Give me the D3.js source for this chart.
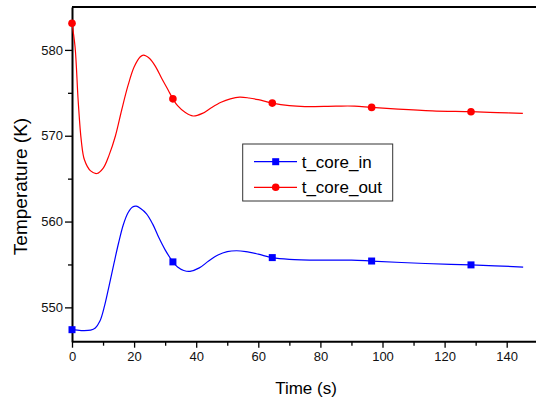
<!DOCTYPE html>
<html>
<head>
<meta charset="utf-8">
<script src="https://cdn.jsdelivr.net/npm/d3@7"></script>
<style>
  body { margin: 0; background: #fff; }
  svg { display: block; font-family: "Liberation Sans", Arial, sans-serif; }
</style>
</head>
<body>
<div id="chart"></div>
<script>
// values
var timeOut = [0, 1, 2, 3, 4, 6, 8, 10, 12, 14, 16, 18, 20, 22, 23, 25, 27, 29, 31, 32.5, 34, 36.5, 39, 42, 45, 48, 51, 54, 57, 60, 64.5, 70, 75, 85, 91, 96.5, 105, 116, 128.5, 137, 145.2]
var tCoreOut = [583.1, 580.3, 574, 569.4, 567.2, 565.9, 565.6, 566.2, 567.8, 570, 573, 575.8, 578, 579.2, 579.4, 579.0, 578, 576.6, 575.3, 574.3, 573.5, 572.7, 572.3, 572.6, 573.3, 573.9, 574.3, 574.5, 574.4, 574.2, 573.8, 573.5, 573.4, 573.45, 573.45, 573.3, 573.1, 572.9, 572.8, 572.7, 572.6]

var timeIn = [0, 3, 6, 7.5, 9, 10.5, 12, 13.5, 15, 16.5, 18, 19.5, 20.7, 22, 24, 26, 28, 30, 32.5, 34, 36, 38, 41, 44, 47, 50, 53, 56, 60, 64.5, 70, 80, 90, 96.5, 108, 122, 128.5, 145.3]
var tCoreIn = [547.4, 547.3, 547.35, 547.6, 548.4, 550.2, 552.6, 555.1, 557.5, 559.6, 561, 561.7, 561.8, 561.55, 560.9, 559.7, 558.1, 556.7, 555.3, 554.7, 554.3, 554.2, 554.6, 555.4, 556.1, 556.5, 556.6, 556.5, 556.2, 555.8, 555.6, 555.5, 555.5, 555.4, 555.2, 555.0, 554.95, 554.7]

var markerTimes = [0, 32.5, 64.5, 96.5, 128.5]
var xTicks = [0, 20, 40, 60, 80, 100, 120, 140]
var yTicks = [550, 560, 570, 580]
var seriesNames = ["t_core_in", "t_core_out"]
var seriesColors = ["#0000ff", "#ff0000"]

var width = 536, height = 407
var svg = d3.select("#chart").append("svg")
    .attr("width", width)
    .attr("height", height)

var x = d3.scaleLinear().domain([0, 150]).range([72, 537.75])
var y = d3.scaleLinear().domain([546, 585]).range([341.7, 7])

// top frame line
svg.append("line")
    .attr("x1", x(0)).attr("x2", width)
    .attr("y1", y(585)).attr("y2", y(585))
    .attr("stroke", "#000").attr("stroke-width", 2)

// minor ticks
svg.append("g")
    .attr("transform", "translate(0," + y(546) + ")")
    .call(d3.axisBottom(x).tickValues(d3.range(10, 150, 20)).tickSize(4).tickFormat(""))
    .call(function (g) { g.select(".domain").remove() })
    .selectAll("line").attr("stroke-width", 1.3)
svg.append("g")
    .attr("transform", "translate(" + x(0) + ",0)")
    .call(d3.axisLeft(y).tickValues([555, 565, 575]).tickSize(4).tickFormat(""))
    .call(function (g) { g.select(".domain").remove() })
    .selectAll("line").attr("stroke-width", 1.3)

var xAxis = svg.append("g")
    .attr("transform", "translate(0," + y(546) + ")")
    .call(d3.axisBottom(x).tickValues(xTicks).tickSize(6).tickPadding(4).tickSizeOuter(0))
xAxis.select(".domain").attr("d", "M" + x(0) + ",0H" + width).attr("stroke-width", 2)
xAxis.selectAll("line").attr("stroke-width", 1.3)
xAxis.selectAll("text").attr("font-size", 13).attr("font-family", "Liberation Sans, Arial").attr("fill", "#111")

var yAxis = svg.append("g")
    .attr("transform", "translate(" + x(0) + ",0)")
    .call(d3.axisLeft(y).tickValues(yTicks).tickSize(7).tickPadding(2).tickSizeOuter(0))
yAxis.select(".domain").attr("stroke-width", 2)
yAxis.selectAll("line").attr("stroke-width", 1.3)
yAxis.selectAll("text").attr("font-size", 13).attr("font-family", "Liberation Sans, Arial").attr("fill", "#111")

// axis titles
svg.append("text")
    .attr("x", 306).attr("y", 394)
    .attr("text-anchor", "middle")
    .attr("font-size", 17)
    .text("Time (s)")
svg.append("text")
    .attr("transform", "translate(26.5,186.5) rotate(-90)")
    .attr("text-anchor", "middle")
    .attr("font-size", 19)
    .text("Temperature (K)")

var line = d3.line()
    .x(function (d) { return x(d.t) })
    .y(function (d) { return y(d.v) })
    .curve(d3.curveCatmullRom.alpha(0.5))

var inData = timeIn.map(function (t, i) { return { t: t, v: tCoreIn[i] } })
var outData = timeOut.map(function (t, i) { return { t: t, v: tCoreOut[i] } })

svg.append("path").datum(inData)
    .attr("d", line).attr("fill", "none")
    .attr("stroke", seriesColors[0]).attr("stroke-width", 1.2)
svg.append("path").datum(outData)
    .attr("d", line).attr("fill", "none")
    .attr("stroke", seriesColors[1]).attr("stroke-width", 1.2)

svg.selectAll(".sq")
    .data(inData.filter(function (d) { return markerTimes.indexOf(d.t) >= 0 }))
    .enter().append("rect")
    .attr("x", function (d) { return x(d.t) - 3.5 })
    .attr("y", function (d) { return y(d.v) - 3.5 })
    .attr("width", 7).attr("height", 7)
    .attr("fill", seriesColors[0])

svg.selectAll(".dot")
    .data(outData.filter(function (d) { return markerTimes.indexOf(d.t) >= 0 }))
    .enter().append("circle")
    .attr("cx", function (d) { return x(d.t) })
    .attr("cy", function (d) { return y(d.v) })
    .attr("r", 3.8)
    .attr("fill", seriesColors[1])

// legend
svg.append("rect")
    .attr("x", 242.7).attr("y", 144)
    .attr("width", 150).attr("height", 57)
    .attr("fill", "#fff").attr("stroke", "#333").attr("stroke-width", 1)
var rowY = [161.7, 187.3]
seriesNames.forEach(function (name, i) {
    svg.append("line")
        .attr("x1", 254).attr("x2", 297)
        .attr("y1", rowY[i]).attr("y2", rowY[i])
        .attr("stroke", seriesColors[i]).attr("stroke-width", 1.2)
    if (i == 0) {
        svg.append("rect")
            .attr("x", 275.7 - 3.5).attr("y", rowY[i] - 3.5)
            .attr("width", 7).attr("height", 7)
            .attr("fill", seriesColors[i])
    } else {
        svg.append("circle")
            .attr("cx", 275.7).attr("cy", rowY[i]).attr("r", 3.8)
            .attr("fill", seriesColors[i])
    }
    svg.append("text")
        .attr("x", 301.7).attr("y", rowY[i] + 6)
        .attr("font-size", 17)
        .text(name)
})
</script>
</body>
</html>
